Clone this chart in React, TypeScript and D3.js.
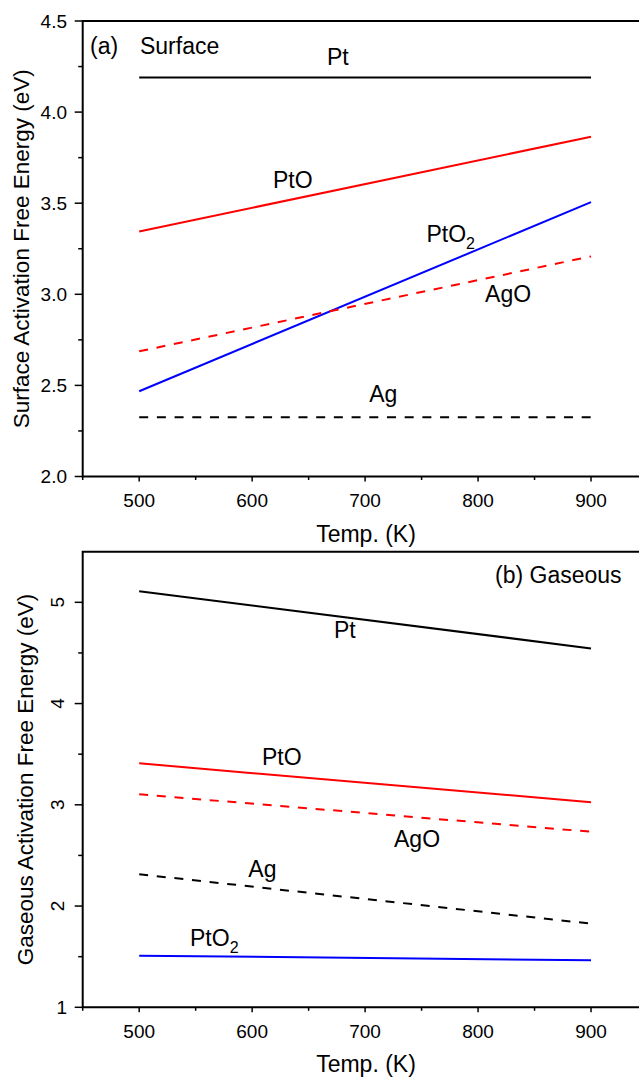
import React, { useEffect, useRef } from 'react';
import * as d3 from 'd3';

// temperatures (K) at the two ends of every line
const temps = [500, 900];

// (a) Surface activation free energy (eV)
const surfacePt = [4.19, 4.19];
const surfacePtO = [3.345, 3.865];
const surfacePtO2 = [2.468, 3.506];
const surfaceAgO = [2.687, 3.208];
const surfaceAg = [2.325, 2.325];

// (b) Gaseous activation free energy (eV)
const gasPt = [5.11, 4.545];
const gasPtO = [3.41, 3.025];
const gasAgO = [3.104, 2.734];
const gasAg = [2.314, 1.826];
const gasPtO2 = [1.51, 1.464];

// tick labels
const tempTicks = [500, 600, 700, 800, 900];
const tempMinor = [450, 550, 650, 750, 850, 950];
const surfaceTicks = [2.0, 2.5, 3.0, 3.5, 4.0, 4.5];
const surfaceMinor = [2.25, 2.75, 3.25, 3.75, 4.25];
const gasTicks = [1, 2, 3, 4, 5];
const gasMinor = [1.5, 2.5, 3.5, 4.5];

const FONT = '"Liberation Sans", Arial, sans-serif';

type Series = { v: number[]; color: string; dashed: boolean };
type Label = { text: string; sub?: string; t: number; e: number };

const App = () => {
    const ref = useRef<SVGSVGElement>(null);

    useEffect(() => {
        const svg = d3.select(ref.current);
        svg.selectAll('*').remove();

        // x比例尺 (shared)
        const x = d3.scaleLinear().domain([450, 950]).range([82.7, 647.5]);

        const panel = (
            yDomain: number[], yRange: number[],
            series: Series[], labels: Label[],
            ticks: number[], minor: number[],
            title: string, titleX: number, rotatedTicks: boolean
        ) => {
            const y = d3.scaleLinear().domain(yDomain).range(yRange);
            const g = svg.append('g');
            const [y0, y1] = yRange;

            // frame
            g.append('path')
                .attr('d', `M${x(450)},${y0}V${y1}H${x(950)}V${y0}Z`)
                .attr('fill', 'none').attr('stroke', '#000').attr('stroke-width', 2);

            // x ticks
            tempTicks.forEach(t => {
                g.append('line').attr('x1', x(t)).attr('x2', x(t))
                    .attr('y1', y0).attr('y2', y0 + 5)
                    .attr('stroke', '#000').attr('stroke-width', 1.5);
                g.append('text').attr('x', x(t)).attr('y', y0 + 30.5)
                    .attr('text-anchor', 'middle').attr('font-size', 19)
                    .attr('font-family', FONT).text(t);
            });
            tempMinor.forEach(t => {
                g.append('line').attr('x1', x(t)).attr('x2', x(t))
                    .attr('y1', y0).attr('y2', y0 + 3.5)
                    .attr('stroke', '#000').attr('stroke-width', 1.5);
            });

            // y ticks
            ticks.forEach(v => {
                g.append('line').attr('x1', x(450) - 8).attr('x2', x(450))
                    .attr('y1', y(v)).attr('y2', y(v))
                    .attr('stroke', '#000').attr('stroke-width', 1.5);
                const lab = g.append('text').attr('font-size', 19)
                    .attr('font-family', FONT);
                if (rotatedTicks && v !== 1) {
                    lab.attr('transform', `translate(64,${y(v)}) rotate(-90)`)
                        .attr('text-anchor', 'middle').text(v);
                } else {
                    lab.attr('x', 67).attr('y', y(v)).attr('dy', '0.35em')
                        .attr('text-anchor', 'end')
                        .text(rotatedTicks ? String(v) : d3.format('.1f')(v));
                }
            });
            minor.forEach(v => {
                g.append('line').attr('x1', x(450) - 4.5).attr('x2', x(450))
                    .attr('y1', y(v)).attr('y2', y(v))
                    .attr('stroke', '#000').attr('stroke-width', 1.5);
            });

            // axis titles
            g.append('text').attr('x', 366).attr('y', y0 + 65)
                .attr('text-anchor', 'middle').attr('font-size', 23)
                .attr('font-family', FONT).text('Temp. (K)');
            g.append('text')
                .attr('transform', `translate(${titleX},${(y0 + y1) / 2}) rotate(-90)`)
                .attr('text-anchor', 'middle').attr('font-size', 22.5)
                .attr('font-family', FONT).text(title);

            // lines
            const line = d3.line<number>().x((d, i) => x(temps[i])).y(d => y(d));
            series.forEach(s => {
                g.append('path').attr('d', line(s.v))
                    .attr('fill', 'none').attr('stroke', s.color)
                    .attr('stroke-width', 2)
                    .attr('stroke-dasharray', s.dashed ? '9,8.7' : null);
            });

            // annotations
            labels.forEach(l => {
                const t = g.append('text').attr('x', x(l.t)).attr('y', y(l.e))
                    .attr('font-size', 23).attr('font-family', FONT).text(l.text);
                if (l.sub) {
                    t.append('tspan').attr('dy', 7).attr('font-size', 16).text(l.sub);
                }
            });
        };

        panel([2, 4.5], [476.5, 21],
            [
                { v: surfacePt, color: '#000', dashed: false },
                { v: surfacePtO, color: '#ff0000', dashed: false },
                { v: surfacePtO2, color: '#0000ff', dashed: false },
                { v: surfaceAgO, color: '#ff0000', dashed: true },
                { v: surfaceAg, color: '#000', dashed: true },
            ],
            [
                { text: '(a)', t: 456.5, e: 4.32 },
                { text: 'Surface', t: 500.7, e: 4.32 },
                { text: 'Pt', t: 666.3, e: 4.259 },
                { text: 'PtO', t: 618.5, e: 3.583 },
                { text: 'PtO', sub: '2', t: 754.3, e: 3.289 },
                { text: 'AgO', t: 806.2, e: 2.959 },
                { text: 'Ag', t: 703.7, e: 2.411 },
            ],
            surfaceTicks, surfaceMinor,
            'Surface Activation Free Energy (eV)', 29, false);

        panel([1, 5.5], [1007.3, 551.7],
            [
                { v: gasPt, color: '#000', dashed: false },
                { v: gasPtO, color: '#ff0000', dashed: false },
                { v: gasAgO, color: '#ff0000', dashed: true },
                { v: gasAg, color: '#000', dashed: true },
                { v: gasPtO2, color: '#0000ff', dashed: false },
            ],
            [
                { text: '(b)  Gaseous', t: 815, e: 5.191 },
                { text: 'Pt', t: 672.4, e: 4.644 },
                { text: 'PtO', t: 608.7, e: 3.393 },
                { text: 'AgO', t: 725.6, e: 2.586 },
                { text: 'Ag', t: 596.6, e: 2.284 },
                { text: 'PtO', sub: '2', t: 545, e: 1.608 },
            ],
            gasTicks, gasMinor,
            'Gaseous Activation Free Energy (eV)', 33, true);
    }, []);

    return (
        <div style={{ position: 'absolute', left: 0, top: 0 }}>
            <svg ref={ref} width={639} height={1078}
                 style={{ display: 'block', background: '#fff', overflow: 'hidden' }} />
        </div>
    );
};

export default App;
